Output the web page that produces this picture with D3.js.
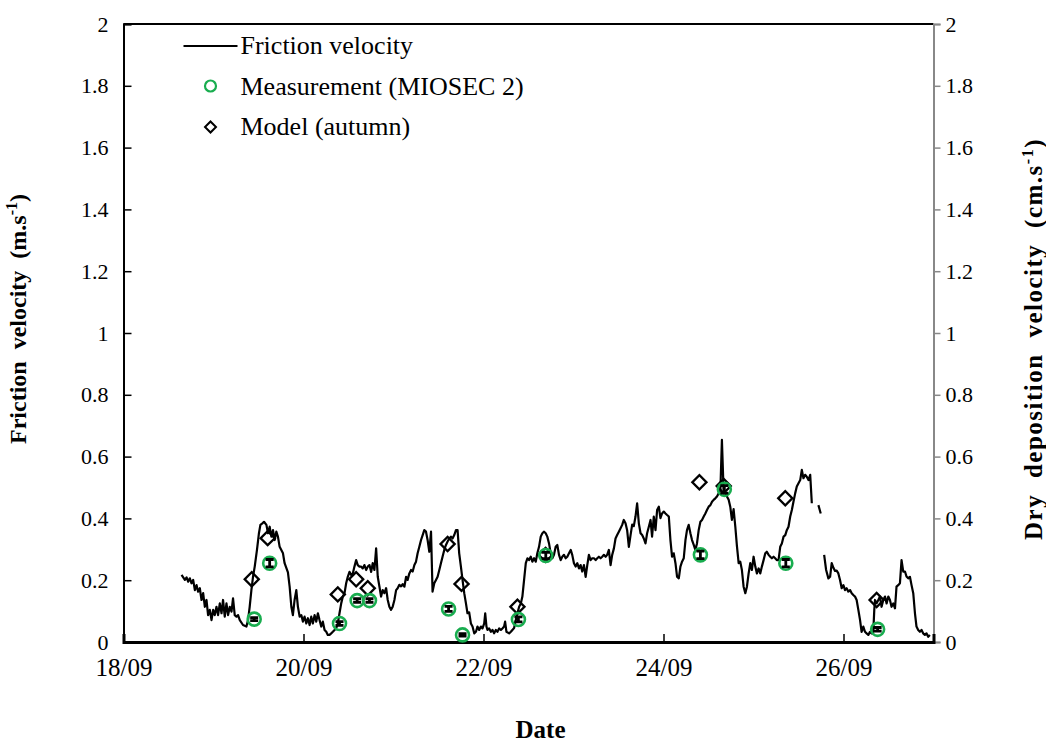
<!DOCTYPE html>
<html>
<head>
<meta charset="utf-8">
<script src="https://cdn.jsdelivr.net/npm/d3@7"></script>
<style>
  body { margin: 0; background: #fff; }
  svg { font-family: "Liberation Serif", "Times New Roman", serif; }
</style>
</head>
<body>
<svg id="chart"></svg>
<script>
// time is in days after 18/09 00:00
let tickDays = [0, 2, 4, 6, 8];
let tickLabels = ["18/09", "20/09", "22/09", "24/09", "26/09"];
let yTicks = [0, 0.2, 0.4, 0.6, 0.8, 1, 1.2, 1.4, 1.6, 1.8, 2];

// friction velocity (m/s), null = missing data
let frictionVelocity = [
    [0.645, 0.217], [0.682, 0.201], [0.701, 0.209], [0.718, 0.195], [0.737, 0.206], [0.756, 0.190],
    [0.774, 0.201], [0.793, 0.168], [0.812, 0.184], [0.829, 0.163], [0.848, 0.174], [0.867, 0.136],
    [0.885, 0.158], [0.904, 0.114], [0.922, 0.136], [0.940, 0.087], [0.959, 0.104], [0.978, 0.071],
    [0.996, 0.104], [1.014, 0.087], [1.033, 0.114], [1.051, 0.087], [1.070, 0.125], [1.089, 0.093],
    [1.106, 0.136], [1.125, 0.082], [1.144, 0.125], [1.162, 0.087], [1.181, 0.114], [1.200, 0.098],
    [1.217, 0.141], [1.236, 0.087], [1.255, 0.082], [1.273, 0.087], [1.292, 0.071], [1.328, 0.055],
    [1.366, 0.050], [1.384, 0.071], [1.402, 0.114], [1.421, 0.168], [1.439, 0.211], [1.458, 0.244],
    [1.483, 0.298], [1.505, 0.352], [1.521, 0.379], [1.543, 0.384], [1.561, 0.389], [1.588, 0.379],
    [1.605, 0.352], [1.624, 0.373], [1.643, 0.341], [1.661, 0.362], [1.680, 0.330], [1.698, 0.357],
    [1.716, 0.341], [1.735, 0.308], [1.772, 0.287], [1.790, 0.255], [1.827, 0.225], [1.846, 0.179],
    [1.865, 0.114], [1.882, 0.087], [1.901, 0.136], [1.920, 0.168], [1.938, 0.114], [1.957, 0.082],
    [1.976, 0.087], [1.993, 0.066], [2.012, 0.082], [2.031, 0.060], [2.049, 0.077], [2.068, 0.055],
    [2.086, 0.082], [2.104, 0.060], [2.123, 0.087], [2.142, 0.066], [2.160, 0.093], [2.178, 0.071],
    [2.197, 0.050], [2.215, 0.066], [2.234, 0.039], [2.253, 0.033], [2.270, 0.023], [2.289, 0.023],
    [2.308, 0.028], [2.326, 0.033], [2.345, 0.039], [2.363, 0.044], [2.381, 0.060], [2.400, 0.093],
    [2.419, 0.125], [2.437, 0.147], [2.456, 0.158], [2.474, 0.190], [2.492, 0.211], [2.511, 0.227],
    [2.530, 0.217], [2.548, 0.222], [2.566, 0.244], [2.585, 0.265], [2.603, 0.249], [2.622, 0.244],
    [2.641, 0.244], [2.658, 0.238], [2.677, 0.249], [2.696, 0.233], [2.714, 0.244], [2.733, 0.249],
    [2.752, 0.227], [2.769, 0.255], [2.788, 0.233], [2.807, 0.303], [2.825, 0.211], [2.844, 0.179],
    [2.862, 0.147], [2.880, 0.168], [2.899, 0.158], [2.918, 0.174], [2.936, 0.136], [2.954, 0.114],
    [2.973, 0.104], [2.991, 0.114], [3.010, 0.136], [3.029, 0.168], [3.046, 0.174], [3.065, 0.185],
    [3.084, 0.180], [3.102, 0.187], [3.121, 0.179], [3.140, 0.211], [3.157, 0.201], [3.176, 0.222],
    [3.195, 0.233], [3.213, 0.228], [3.232, 0.249], [3.250, 0.260], [3.268, 0.287], [3.287, 0.308],
    [3.306, 0.330], [3.324, 0.346], [3.342, 0.362], [3.361, 0.357], [3.379, 0.330], [3.398, 0.292],
    [3.417, 0.357], [3.434, 0.163], [3.453, 0.190], [3.472, 0.201], [3.490, 0.211], [3.509, 0.233],
    [3.527, 0.255], [3.545, 0.276], [3.564, 0.298], [3.583, 0.314], [3.601, 0.325], [3.620, 0.335],
    [3.638, 0.341], [3.656, 0.335], [3.675, 0.346], [3.694, 0.362], [3.712, 0.362], [3.730, 0.287],
    [3.749, 0.244], [3.767, 0.201], [3.786, 0.158], [3.805, 0.125], [3.822, 0.093], [3.841, 0.096],
    [3.860, 0.060], [3.878, 0.050], [3.897, 0.028], [3.916, 0.033], [3.933, 0.050], [3.952, 0.039],
    [3.971, 0.050], [3.989, 0.044], [4.008, 0.060], [4.019, 0.093], [4.033, 0.050], [4.044, 0.039],
    [4.063, 0.044], [4.082, 0.033], [4.100, 0.039], [4.118, 0.028], [4.137, 0.039], [4.155, 0.033],
    [4.174, 0.044], [4.193, 0.039], [4.210, 0.044], [4.229, 0.050], [4.240, 0.066], [4.255, 0.033],
    [4.285, 0.028], [4.304, 0.033], [4.321, 0.039], [4.340, 0.045], [4.359, 0.071], [4.377, 0.093],
    [4.396, 0.114], [4.415, 0.125], [4.432, 0.147], [4.451, 0.201], [4.470, 0.255], [4.488, 0.271],
    [4.506, 0.265], [4.525, 0.276], [4.543, 0.260], [4.562, 0.271], [4.581, 0.260], [4.598, 0.287],
    [4.617, 0.308], [4.636, 0.341], [4.654, 0.352], [4.673, 0.357], [4.691, 0.352], [4.709, 0.341],
    [4.728, 0.319], [4.747, 0.287], [4.765, 0.271], [4.783, 0.282], [4.802, 0.308], [4.820, 0.314],
    [4.839, 0.282], [4.858, 0.265], [4.875, 0.276], [4.894, 0.282], [4.913, 0.271], [4.931, 0.276],
    [4.950, 0.287], [4.969, 0.298], [4.986, 0.282], [5.005, 0.255], [5.024, 0.244], [5.042, 0.255],
    [5.061, 0.238], [5.079, 0.249], [5.097, 0.228], [5.116, 0.249], [5.135, 0.211], [5.153, 0.249],
    [5.171, 0.282], [5.190, 0.265], [5.208, 0.271], [5.227, 0.271], [5.246, 0.265], [5.264, 0.271],
    [5.282, 0.276], [5.301, 0.271], [5.319, 0.276], [5.338, 0.282], [5.357, 0.276], [5.374, 0.282],
    [5.393, 0.298], [5.412, 0.249], [5.430, 0.282], [5.449, 0.303], [5.467, 0.335], [5.485, 0.346],
    [5.504, 0.357], [5.523, 0.368], [5.541, 0.379], [5.559, 0.395], [5.578, 0.384], [5.596, 0.362],
    [5.615, 0.308], [5.634, 0.346], [5.652, 0.380], [5.670, 0.375], [5.689, 0.406], [5.707, 0.449],
    [5.726, 0.384], [5.745, 0.352], [5.763, 0.346], [5.781, 0.335], [5.800, 0.319], [5.818, 0.352],
    [5.837, 0.373], [5.856, 0.395], [5.873, 0.341], [5.892, 0.406], [5.911, 0.362], [5.929, 0.427],
    [5.948, 0.438], [5.966, 0.401], [5.984, 0.416], [6.003, 0.422], [6.022, 0.416], [6.040, 0.411],
    [6.059, 0.406], [6.077, 0.330], [6.095, 0.276], [6.114, 0.287], [6.133, 0.255], [6.151, 0.211],
    [6.170, 0.206], [6.188, 0.244], [6.206, 0.260], [6.225, 0.271], [6.244, 0.330], [6.261, 0.362],
    [6.280, 0.379], [6.299, 0.352], [6.317, 0.330], [6.336, 0.314], [6.354, 0.298], [6.372, 0.319],
    [6.391, 0.362], [6.410, 0.389], [6.428, 0.395], [6.447, 0.406], [6.465, 0.416], [6.483, 0.427],
    [6.502, 0.438], [6.521, 0.443], [6.539, 0.454], [6.557, 0.460], [6.576, 0.465], [6.594, 0.471],
    [6.613, 0.481], [6.632, 0.492], [6.649, 0.654], [6.668, 0.487], [6.687, 0.481], [6.705, 0.471],
    [6.724, 0.460], [6.742, 0.438], [6.760, 0.395], [6.779, 0.430], [6.798, 0.373], [6.816, 0.310],
    [6.835, 0.255], [6.853, 0.260], [6.871, 0.233], [6.890, 0.179], [6.909, 0.158], [6.927, 0.179],
    [6.946, 0.222], [6.964, 0.255], [6.982, 0.233], [7.001, 0.276], [7.020, 0.244], [7.038, 0.222],
    [7.057, 0.238], [7.075, 0.222], [7.093, 0.244], [7.112, 0.265], [7.131, 0.287], [7.148, 0.292],
    [7.168, 0.282], [7.186, 0.276], [7.204, 0.271], [7.223, 0.276], [7.241, 0.271], [7.259, 0.265],
    [7.278, 0.265], [7.297, 0.308], [7.315, 0.319], [7.334, 0.341], [7.353, 0.346], [7.370, 0.362],
    [7.389, 0.373], [7.408, 0.406], [7.426, 0.427], [7.444, 0.454], [7.463, 0.481], [7.481, 0.503],
    [7.500, 0.514], [7.519, 0.524], [7.537, 0.557], [7.555, 0.530], [7.574, 0.541], [7.592, 0.535],
    [7.611, 0.524], [7.630, 0.541], [7.648, 0.449], [7.685, null], [7.721, 0.443], [7.747, 0.416],
    [7.765, null], [7.785, 0.282], [7.807, 0.233], [7.832, 0.206], [7.851, 0.211], [7.869, 0.255],
    [7.888, 0.240], [7.906, 0.230], [7.924, 0.231], [7.943, 0.222], [7.962, 0.200], [7.980, 0.174],
    [7.999, 0.184], [8.017, 0.168], [8.035, 0.174], [8.054, 0.163], [8.073, 0.168], [8.091, 0.158],
    [8.109, 0.152], [8.128, 0.147], [8.146, 0.136], [8.165, 0.104], [8.184, 0.071], [8.201, 0.033],
    [8.220, 0.050], [8.239, 0.033], [8.257, 0.028], [8.276, 0.023], [8.294, 0.033], [8.312, 0.028],
    [8.331, 0.033], [8.342, 0.104], [8.350, 0.136], [8.368, 0.125], [8.387, 0.136], [8.405, 0.147],
    [8.423, 0.114], [8.442, 0.136], [8.461, 0.147], [8.479, 0.125], [8.498, 0.147], [8.516, 0.136],
    [8.534, 0.114], [8.553, 0.125], [8.572, 0.109], [8.589, 0.179], [8.608, 0.184], [8.627, 0.190],
    [8.645, 0.265], [8.664, 0.228], [8.683, 0.228], [8.700, 0.212], [8.719, 0.206], [8.738, 0.211],
    [8.756, 0.184], [8.775, 0.158], [8.794, 0.093], [8.811, 0.050], [8.830, 0.039], [8.849, 0.033],
    [8.867, 0.039], [8.885, 0.028], [8.904, 0.023], [8.922, 0.028], [8.941, 0.017], [8.960, 0.023]
];

// measured dry deposition velocity (cm/s) with error
let measTime = [1.452, 1.624, 2.400, 2.596, 2.733, 3.612, 3.767, 4.388, 4.692, 6.410, 6.676, 7.359, 8.379];
let measValue = [0.074, 0.255, 0.060, 0.134, 0.134, 0.107, 0.023, 0.073, 0.280, 0.282, 0.494, 0.255, 0.041];
let measError = [0.005, 0.012, 0.006, 0.006, 0.006, 0.008, 0.004, 0.008, 0.010, 0.012, 0.012, 0.012, 0.006];

// modelled dry deposition velocity (cm/s)
let modelTime = [1.425, 1.602, 2.381, 2.585, 2.714, 3.601, 3.756, 4.377, 4.690, 6.399, 6.669, 7.353, 8.368];
let modelValue = [0.203, 0.336, 0.154, 0.203, 0.174, 0.317, 0.188, 0.114, 0.282, 0.517, 0.505, 0.465, 0.136];

let W = 1046, H = 744;
let margin = {top: 24, right: 112.5, bottom: 102, left: 123.5},
    width = W - margin.left - margin.right,
    height = H - margin.top - margin.bottom;
let green = "#19ad4f";

let svg = d3.select("#chart")
    .attr("width", W)
    .attr("height", H)
    .append("g")
    .attr("transform", "translate(" + margin.left + "," + margin.top + ")");

let x = d3.scaleLinear().domain([0, 9]).range([0, width]);
let y = d3.scaleLinear().domain([0, 2]).range([height, 0]);
let y2 = d3.scaleLinear().domain([0, 2]).range([height, 0]);

// top frame line
svg.append("line")
    .attr("x1", 0).attr("x2", width)
    .attr("y1", 0).attr("y2", 0)
    .attr("stroke", "#000").attr("stroke-width", 2);

// left axis, inward ticks
let yAxis = svg.append("g")
    .call(d3.axisRight(y).tickValues(yTicks).tickSize(8).tickFormat(d3.format("")));
yAxis.select(".domain").attr("stroke-width", 2);
yAxis.selectAll(".tick line").attr("stroke-width", 1.5);
yAxis.selectAll(".tick text")
    .attr("x", -15)
    .attr("text-anchor", "end")
    .style("font-size", "22px")
    .style("font-family", "Liberation Serif");

// right axis, grey
let y2Axis = svg.append("g")
    .attr("transform", "translate(" + width + ",0)")
    .call(d3.axisRight(y2).tickValues(yTicks).tickSize(7).tickFormat(d3.format("")));
y2Axis.select(".domain").attr("stroke", "#888").attr("stroke-width", 2);
y2Axis.selectAll(".tick line").attr("stroke", "#888").attr("stroke-width", 1.5);
y2Axis.selectAll(".tick text")
    .attr("x", 12)
    .attr("fill", "#000")
    .style("font-size", "22px")
    .style("font-family", "Liberation Serif");

// bottom axis, inward ticks
let xAxis = svg.append("g")
    .attr("transform", "translate(0," + height + ")")
    .call(d3.axisTop(x).tickValues(tickDays).tickSize(8)
        .tickFormat(function (d, i) { return tickLabels[i]; }));
xAxis.select(".domain").attr("stroke-width", 3);
xAxis.selectAll(".tick line").attr("stroke-width", 1.5);
xAxis.selectAll(".tick text")
    .attr("y", 34)
    .style("font-size", "25px")
    .style("font-family", "Liberation Serif");

// axis titles
svg.append("text")
    .attr("x", width / 2 + 12)
    .attr("y", height + 96)
    .attr("text-anchor", "middle")
    .style("font-weight", "bold")
    .style("font-size", "25px")
    .text("Date");

let leftTitle = svg.append("text")
    .attr("transform", "translate(" + (-98) + "," + (height / 2 - 14) + ") rotate(-90)")
    .attr("text-anchor", "middle")
    .style("font-weight", "bold")
    .style("font-size", "24px")
    .style("word-spacing", "6px");
leftTitle.append("tspan").text("Friction velocity (m.s");
leftTitle.append("tspan").attr("dy", -9).style("font-size", "16px").text("-1");
leftTitle.append("tspan").attr("dy", 9).text(")");

let rightTitle = svg.append("text")
    .attr("transform", "translate(" + (width + 108) + "," + (height / 2 + 6) + ") rotate(-90)")
    .attr("text-anchor", "middle")
    .style("font-weight", "bold")
    .style("font-size", "25px")
    .style("letter-spacing", "1.5px")
    .style("word-spacing", "8px");
rightTitle.append("tspan").text("Dry deposition velocity (cm.s");
rightTitle.append("tspan").attr("dy", -9).style("font-size", "16px").text("-1");
rightTitle.append("tspan").attr("dy", 9).text(")");

// friction velocity line
let line = d3.line()
    .defined(function (d) { return d[1] !== null; })
    .x(function (d) { return x(d[0]); })
    .y(function (d) { return y(d[1]); });
svg.append("path")
    .datum(frictionVelocity)
    .attr("d", line)
    .attr("fill", "none")
    .attr("stroke", "#000")
    .attr("stroke-width", 2.2)
    .attr("stroke-linejoin", "round");

// model diamonds
let diamond = d3.symbol().type(d3.symbolSquare).size(100);
svg.selectAll(".model")
    .data(modelTime)
    .enter().append("path")
    .attr("class", "model")
    .attr("d", diamond)
    .attr("transform", function (d, i) {
        return "translate(" + x(d) + "," + y2(modelValue[i]) + ") rotate(45)";
    })
    .attr("fill", "none")
    .attr("stroke", "#000")
    .attr("stroke-width", 2.3);

// measurements: circle + error bar
let meas = svg.selectAll(".meas")
    .data(measTime)
    .enter().append("g")
    .attr("class", "meas")
    .attr("transform", function (d, i) {
        return "translate(" + x(d) + "," + y2(measValue[i]) + ")";
    });
meas.append("circle")
    .attr("r", 6.5)
    .attr("fill", "none")
    .attr("stroke", green)
    .attr("stroke-width", 2.6);
meas.append("path")
    .attr("d", function (d, i) {
        let e = y2(0) - y2(measError[i]);
        return "M0," + (-e) + "V" + e + "M-4," + (-e) + "H4M-4," + e + "H4";
    })
    .attr("fill", "none")
    .attr("stroke", "#000")
    .attr("stroke-width", 2.8);

// legend
let legend = svg.append("g").attr("transform", "translate(60,22)");
legend.append("line")
    .attr("x1", 0).attr("x2", 54)
    .attr("y1", 0).attr("y2", 0)
    .attr("stroke", "#000").attr("stroke-width", 2);
legend.append("circle")
    .attr("cx", 27).attr("cy", 40).attr("r", 5.5)
    .attr("fill", "none").attr("stroke", green).attr("stroke-width", 2.2);
legend.append("path")
    .attr("d", d3.symbol().type(d3.symbolSquare).size(60))
    .attr("transform", "translate(27,81) rotate(45)")
    .attr("fill", "none").attr("stroke", "#000").attr("stroke-width", 2);
let legendNames = ["Friction velocity", "Measurement (MIOSEC 2)", "Model (autumn)"];
legend.selectAll(".lt")
    .data(legendNames)
    .enter().append("text")
    .attr("class", "lt")
    .attr("x", 57)
    .attr("y", function (d, i) { return i * 40.5 + 8; })
    .style("font-size", "26px")
    .text(function (d) { return d; });
</script>
</body>
</html>
